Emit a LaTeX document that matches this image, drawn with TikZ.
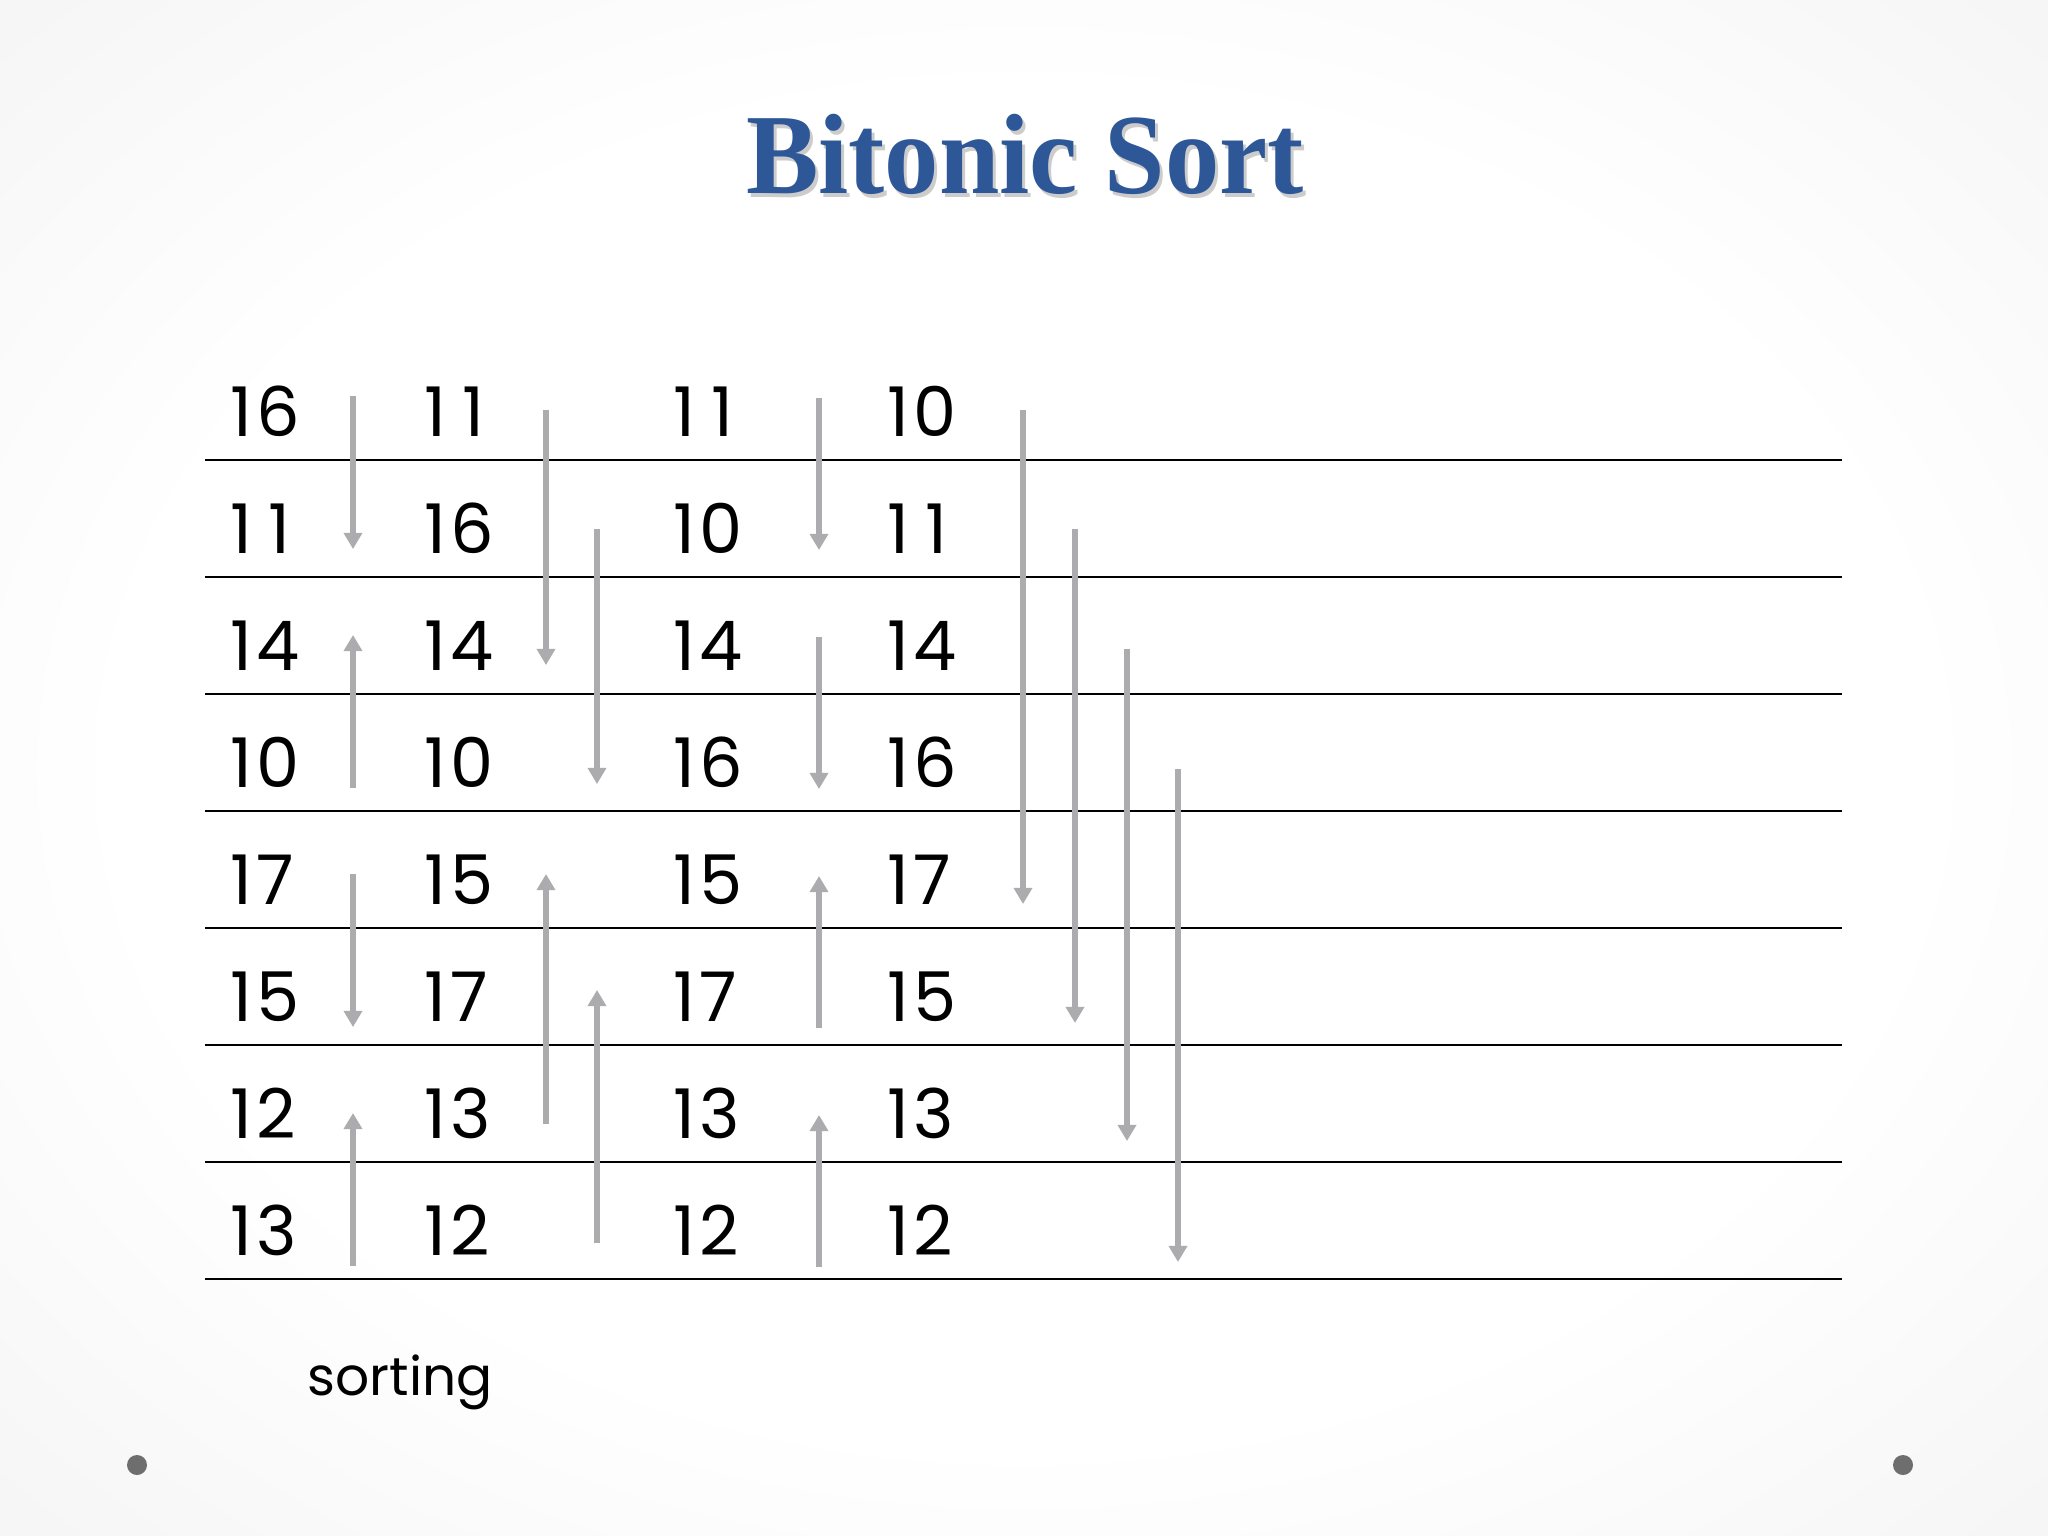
\documentclass[tikz,border=0pt]{standalone}
\usepackage{fontspec}
\setmainfont{Poppins}
\newfontfamily\titlefont{Liberation Serif}
\usetikzlibrary{arrows.meta}
\definecolor{titleblue}{RGB}{46,87,152}
\definecolor{arrowgray}{RGB}{172,172,174}
\definecolor{dotgray}{RGB}{110,110,110}
\pgfdeclareradialshading{bgshade}{\pgfpoint{0bp}{0bp}}{color(0bp)=(white); color(22bp)=(white); color(72bp)=(black!14)}
% space two-digit numbers like the tabular figures of the original
\def\twodig#1#2{#1\ifnum#2=1 \kern4.6pt\else\kern1pt\fi#2}
\begin{document}
\begin{tikzpicture}[x=0.01cm,y=-0.01cm,
  num/.style={anchor=base west, inner sep=0pt, font=\fontsize{19.5}{22}\selectfont},
  rowline/.style={line width=0.7pt, draw=black},
  cmp/.style={draw=arrowgray, line width=1.7pt, -{Triangle[width=5.1pt,length=4.6pt]}},
  titletext/.style={anchor=base, inner sep=0pt, xscale=0.95, font=\titlefont\bfseries\fontsize{32.5}{36}\selectfont}]
\useasboundingbox (0,0) rectangle (2048,1536);
\shade[shading=bgshade] (0,0) rectangle (2048,1536);
% title
\node[titletext, text=black!20] (titleshadow) at (1028,197) {Bitonic Sort};
\node[titletext, text=titleblue] (title) at (1025,193) {Bitonic Sort};
% row lines
\foreach \r in {0,...,7}{
  \draw[rowline] (205,460+117*\r) -- (1842,460+117*\r);
}
% numbers
\foreach \c/\x/\vals in {1/230/{16,11,14,10,17,15,12,13},
                         2/424/{11,16,14,10,15,17,13,12},
                         3/673/{11,10,14,16,15,17,13,12},
                         4/887/{10,11,14,16,17,15,13,12}}{
  \foreach \v [count=\r from 0] in \vals {
    \node[num] (n\c-\r) at (\x,436+117*\r) {\expandafter\twodig\v};
  }
}
% comparator arrows
\foreach \n/\x/\ya/\yb in {a1/353/396/549, a2/353/788/635, a3/353/874/1027, a4/353/1266/1113,
                           b1/546/410/665, b2/546/1124/874,
                           c1/597/529/784, c2/597/1243/990,
                           d1/819/398/550, d2/819/637/789, d3/819/1028/876, d4/819/1267/1115,
                           e1/1023/410/904, f1/1075/529/1023, g1/1127/649/1141, h1/1178/769/1262}{
  \coordinate (\n s) at (\x,\ya);
  \coordinate (\n e) at (\x,\yb);
  \draw[cmp] (\n s) -- (\n e);
}
% label
\node[anchor=base west, inner sep=0pt, font=\fontsize{15.2}{20}\selectfont] (sorting) at (307,1395) {sorting};
% corner dots
\fill[dotgray] (137,1465) circle (10);
\fill[dotgray] (1903,1465) circle (10);
\end{tikzpicture}
\end{document}
